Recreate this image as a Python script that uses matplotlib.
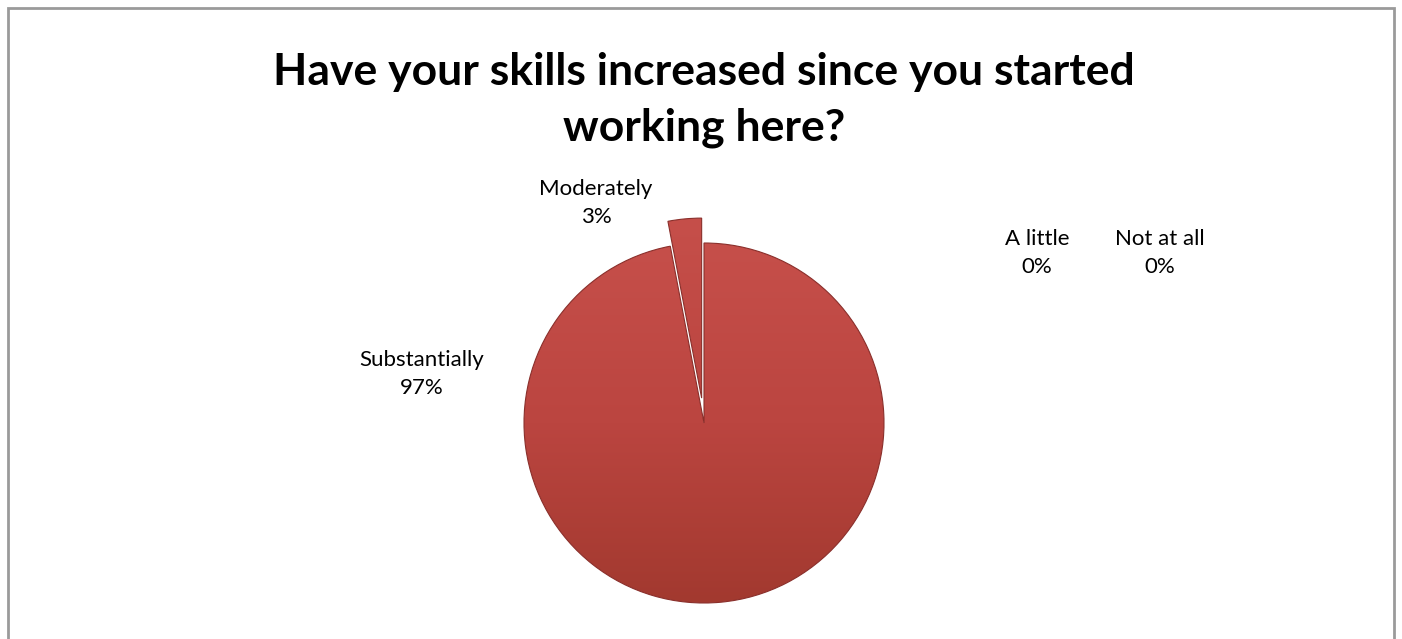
import numpy as np
import matplotlib.pyplot as plt
from matplotlib.patches import Rectangle

labels = ['Substantially', 'Moderately', 'A little', 'Not at all']
values = [97, 3, 0, 0]

title = 'Have your skills increased since you started\nworking here?'

W, H = 1402, 639
fig = plt.figure(figsize=(W / 100, H / 100), dpi=100)
ax = fig.add_axes([0, 0, 1, 1])

# outer chart frame
ax.add_patch(Rectangle((8, -10), W - 16, H - 8 + 10, fill=False,
                       edgecolor='#9a9a9a', linewidth=2))

cx, cy, r = 704, H - 423, 180
wedges, _ = ax.pie(values, startangle=90, counterclock=False,
                   center=(cx, cy), radius=r, explode=[0, 25, 0, 0],
                   colors=['#bb4743'] * 4, frame=True,
                   wedgeprops=dict(edgecolor='#8a2f2b', linewidth=0.8))
ax.set_xlim(0, W)
ax.set_ylim(0, H)
ax.set_aspect('equal')
ax.axis('off')

# vertical shading inside each slice
grad = np.linspace(0, 1, 256).reshape(-1, 1)
cmap = plt.matplotlib.colors.LinearSegmentedColormap.from_list(
    'shade', ['#a2392f', '#bb4540', '#c64f4a'])
for w, v in zip(wedges, values):
    if v == 0:
        w.set_linewidth(0)
        continue
    x0, y0 = w.center
    im = ax.imshow(grad, cmap=cmap, origin='lower', aspect='auto',
                   extent=(x0 - r, x0 + r, y0 - r, y0 + r), zorder=w.get_zorder())
    im.set_clip_path(w)
    w.set_facecolor('none')
    w.set_zorder(w.get_zorder() + 0.5)

font = 'Lato'
ax.text(W / 2 + 3, H - 100, title, ha='center', va='center', fontsize=32,
        fontweight='bold', family=font, linespacing=1.5)

pos = {
    'Substantially': (422, H - 374),
    'Moderately': (596, H - 203),
    'A little': (1037, H - 253),
    'Not at all': (1160, H - 253),
}
for lab, v in zip(labels, values):
    x, y = pos[lab]
    ax.text(x, y, f'{lab}\n{v}%', ha='center', va='center', fontsize=16,
            family=font, linespacing=1.45)

fig.savefig('out.png', dpi=100)
